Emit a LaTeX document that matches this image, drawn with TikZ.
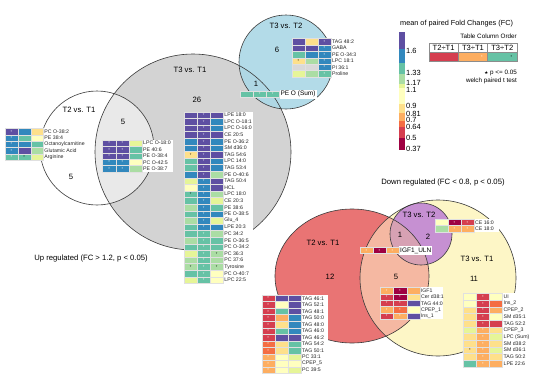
\documentclass[tikz,border=0pt]{standalone}
\usepackage{fontspec}
\setmainfont{Liberation Sans}
\newfontfamily\djv{DejaVu Sans}
\definecolor{spA}{HTML}{9E0142}
\definecolor{spB}{HTML}{D53E4F}
\definecolor{spC}{HTML}{F46D43}
\definecolor{spD}{HTML}{FDAE61}
\definecolor{spE}{HTML}{FEE08B}
\definecolor{spF}{HTML}{FFFFBF}
\definecolor{spG}{HTML}{E6F598}
\definecolor{spH}{HTML}{ABDDA4}
\definecolor{spI}{HTML}{66C2A5}
\definecolor{spJ}{HTML}{3288BD}
\definecolor{spK}{HTML}{5E4FA2}
\definecolor{naG}{HTML}{D9D9D9}
\definecolor{vGray}{HTML}{D3D3D3}
\definecolor{vBlue}{HTML}{ADD8E6}
\definecolor{vRed}{HTML}{E97474}
\definecolor{vYel}{HTML}{FDF6C6}
\definecolor{vSalm}{HTML}{F5B8A2}
\definecolor{vPur}{HTML}{C690D2}
\definecolor{vPink}{HTML}{D7A1B3}
\definecolor{vLine}{HTML}{3A3A3A}
\tikzset{
 cellbd/.style={draw=black!12, line width=0.2pt},
 hlab/.style={font=\fontsize{5.2}{6}\selectfont, inner sep=0.9pt, anchor=west, text=black!85},
 astbase/.style={font=\fontsize{4}{4}\selectfont, inner sep=0pt},
 astw/.style={astbase,text=white},
 astk/.style={astbase,text=black},
 astn/.style={astbase,text opacity=0},
 vline/.style={draw=vLine, line width=0.6pt},
 setlab/.style={font=\fontsize{7.7}{9}\selectfont, inner sep=0pt},
 biglab/.style={font=\fontsize{6.5}{8}\selectfont, inner sep=1pt, anchor=west, fill=white, minimum height=9pt},
 ticklab/.style={font=\fontsize{7.5}{9}\selectfont, inner sep=0pt, anchor=west},
 tabhead/.style={font=\fontsize{7.6}{9}\selectfont, inner sep=0pt},
 smalltxt/.style={font=\fontsize{6.3}{8}\selectfont, inner sep=0pt, anchor=east},
}
% #1 name, #2 x, #3 y, #4 cell width, #5 cell height, #6 label box width, #7 rows
\newcommand\hmap[7]{%
  \foreach \ca/\sa/\cb/\sb/\cc/\sc/\lab [count=\i from 0] in {#7}{%
    \pgfmathsetmacro\yy{#3+\i*#5}%
    \fill[white] (#2+3*#4,\yy) rectangle ++(#6,#5);
    \filldraw[cellbd,fill=\ca] (#2,\yy) rectangle ++(#4,#5);
    \filldraw[cellbd,fill=\cb] (#2+#4,\yy) rectangle ++(#4,#5);
    \filldraw[cellbd,fill=\cc] (#2+2*#4,\yy) rectangle ++(#4,#5);
    \node[\sa] (#1-\i-a) at (#2+0.5*#4,\yy+0.55*#5) {*};
    \node[\sb] (#1-\i-b) at (#2+1.5*#4,\yy+0.55*#5) {*};
    \node[\sc] (#1-\i-c) at (#2+2.5*#4,\yy+0.55*#5) {*};
    \node[hlab] (#1-\i) at (#2+3*#4,\yy+0.5*#5) {\lab};
  }%
}
\begin{document}
\begin{tikzpicture}[x=1pt,y=-1pt]
\useasboundingbox (0,0) rectangle (550,389);
% ---------- Up regulated Venn ----------
\fill[vGray] (193,152) circle (98pt);
\fill[white,opacity=0.5] (97,148) circle (57pt);
\fill[vBlue,opacity=0.92] (286,62) circle (47pt);
\draw[vline] (193,152) circle (98pt);
\draw[vline] (97,148) circle (57pt);
\draw[vline] (286,62) circle (47pt);
\node[setlab] (t2t1u) at (79,110) {T2 vs. T1};
\node[setlab] (n5a) at (123,122) {5};
\node[setlab] (n5b) at (71,177) {5};
\node[setlab] (t3t1u) at (190,70) {T3 vs. T1};
\node[setlab] (n26) at (197,100) {26};
\node[setlab] (t3t2u) at (286,26) {T3 vs. T2};
\node[setlab] (n6) at (277,50) {6};
\node[setlab] (n1u) at (256,84) {1};
\node[setlab] (upreg) at (91,259) {Up regulated (FC > 1.2, p < 0.05)};
% ---------- Down regulated Venn ----------
\fill[vYel] (438,278) circle (78pt);
\fill[vRed] (352,276) ellipse [x radius=77pt, y radius=67pt];
\begin{scope}
  \clip (438,278) circle (78pt);
  \fill[vSalm] (352,276) ellipse [x radius=77pt, y radius=67pt];
\end{scope}
\fill[vPur] (421,234) circle (31pt);
\begin{scope}
  \clip (421,234) circle (31pt);
  \fill[vPink] (352,276) ellipse [x radius=77pt, y radius=67pt];
\end{scope}
\draw[vline] (438,278) circle (78pt);
\draw[vline] (352,276) ellipse [x radius=77pt, y radius=67pt];
\draw[vline] (421,234) circle (31pt);
\node[setlab] (downreg) at (443,183) {Down regulated (FC < 0.8, p < 0.05)};
\node[setlab] (t2t1d) at (323,243) {T2 vs. T1};
\node[setlab] (n12) at (330,277) {12};
\node[setlab] (t3t2d) at (419,215) {T3 vs. T2};
\node[setlab] (n1d) at (400,235) {1};
\node[setlab] (n2d) at (428,237) {2};
\node[setlab] (t3t1d) at (477,259) {T3 vs. T1};
\node[setlab] (n11) at (474,279) {11};
\node[setlab] (n5d) at (396,277) {5};
% ---------- heatmaps (up) ----------
\hmap{L}{5}{128.3}{12.8}{6.35}{44}{%
 spK/astw/spJ/astn/spE/astn/PC O-38:2,
 spJ/astw/spI/astn/spF/astn/PE 38:4,
 spJ/astw/spJ/astn/spI/astn/Octanoylcarnitine,
 spJ/astw/spK/astn/spH/astn/Glutamic Acid,
 spI/astw/spI/astk/spG/astn/Arginine}
\hmap{M}{102.5}{140}{13.2}{6.35}{31}{%
 spK/astw/spK/astw/spG/astn/LPC O-18:0,
 spK/astw/spK/astw/spI/astn/PE 40:6,
 spK/astw/spK/astw/spI/astn/PE O-38:4,
 spJ/astw/spJ/astw/spF/astn/PC O-42:5,
 spJ/astw/spJ/astw/spH/astn/PE O-38:7}
\hmap{C}{184}{111.7}{13.1}{6.6}{30}{%
 spK/astn/spK/astw/spK/astn/LPE 18:0,
 spK/astn/spK/astw/spJ/astn/LPC O-18:1,
 spK/astn/spK/astw/spJ/astn/LPC O-16:0,
 spK/astn/spK/astw/spK/astn/CE 20:5,
 spJ/astn/spK/astw/spJ/astn/PE O-36:2,
 spJ/astn/spK/astw/spJ/astn/SM d36:0,
 spE/astk/spK/astw/spK/astn/TAG 54:6,
 spI/astn/spK/astw/spJ/astn/LPC 14:0,
 spI/astn/spK/astw/spJ/astn/TAG 53:4,
 spJ/astn/spK/astw/spH/astn/PE O-40:6,
 spG/astn/spJ/astw/spK/astn/TAG 50:4,
 spF/astn/spJ/astw/spK/astn/HCL,
 spI/astk/spJ/astw/spH/astn/LPC 18:0,
 spI/astn/spJ/astw/spG/astn/CE 20:3,
 spH/astn/spJ/astw/spI/astn/PE 38:6,
 spI/astn/spJ/astw/spJ/astn/PE O-38:5,
 spH/astn/spJ/astw/spG/astn/Glu\_4,
 spI/astn/spJ/astw/spJ/astn/LPE 20:3,
 spI/astn/spI/astw/spH/astn/PC 34:2,
 spH/astn/spI/astw/spI/astn/PE O-36:5,
 spI/astn/spI/astw/spI/astn/PC O-34:2,
 spG/astn/spI/astw/spH/astk/PC 36:3,
 spH/astn/spI/astw/spH/astn/PC 37:6,
 spH/astk/spI/astw/spH/astk/Tyrosine,
 spI/astn/spI/astw/spF/astn/PC O-40:7,
 spG/astn/spI/astw/spF/astn/LPC 22:5}
\hmap{R}{292}{38.5}{13}{6.4}{28}{%
 spK/astn/spE/astn/spK/astw/TAG 48:2,
 spK/astn/spK/astn/spJ/astw/GABA,
 spI/astn/spJ/astn/spJ/astw/PE O-34:3,
 spE/astk/spH/astn/spJ/astw/LPC 18:1,
 naG/astn/naG/astn/spJ/astw/PI 36:1,
 spG/astn/spH/astn/spI/astw/Proline}
\node[biglab] (S-lab) at (279.3,94.2) {PE O (Sum)};
\hmap{S}{240}{91}{13.1}{6.3}{0}{spI/astn/spI/astw/spI/astw/{}}
% ---------- heatmaps (down) ----------
\hmap{Q}{435}{219.3}{13}{6.2}{25}{%
 spF/astn/spA/astw/spB/astw/CE 16:0,
 spH/astn/spD/astw/spD/astw/CE 18:0}
\node[biglab] (U-lab) at (399,250.4) {IGF1\_ULN};
\hmap{U}{360}{247.3}{13}{6.2}{0}{spD/astw/spA/astw/spD/astw/{}}
\hmap{G}{380}{287.3}{13.3}{6.4}{23}{%
 spD/astw/spA/astw/spD/astn/IGF1,
 spB/astw/spA/astw/spE/astn/Cer d38:1,
 spB/astw/spB/astw/spK/astn/TAG 44:0,
 spD/astw/spC/astw/spF/astn/CPEP\_1,
 spB/astw/spD/astw/spK/astn/Ins\_1}
\hmap{B}{261.7}{295}{13.1}{6.53}{27}{%
 spB/astw/spK/astn/spK/astn/TAG 46:1,
 spB/astw/spF/astn/spK/astn/TAG 52:1,
 spB/astw/spI/astn/spK/astn/TAG 48:1,
 spB/astw/spD/astn/spJ/astn/TAG 50:0,
 spB/astw/spE/astn/spJ/astn/TAG 48:0,
 spB/astw/spI/astn/spJ/astn/TAG 46:0,
 spB/astw/spK/astn/spK/astn/TAG 46:2,
 spC/astw/spE/astn/spI/astn/TAG 54:2,
 spC/astw/spE/astn/spI/astn/TAG 50:1,
 spD/astw/spF/astn/spG/astn/PC 33:1,
 spD/astw/spF/astn/spF/astn/CPEP\_5,
 spD/astw/spF/astn/spG/astn/PC 39:5}
\hmap{T}{463.3}{293.3}{13.07}{6.67}{30}{%
 spF/astn/spB/astw/spF/astn/UI,
 spF/astn/spB/astw/spC/astn/Ins\_2,
 spE/astn/spB/astw/spD/astn/CPEP\_2,
 spE/astn/spB/astw/spF/astn/SM d35:1,
 spE/astn/spB/astw/spB/astn/TAG 52:2,
 spG/astn/spD/astw/spE/astn/CPEP\_3,
 spE/astn/spD/astw/spG/astn/LPC (Sum),
 spE/astn/spD/astw/spE/astn/SM d38:2,
 spE/astk/spD/astw/spG/astn/SM d36:1,
 spE/astn/spD/astw/spE/astn/TAG 50:2,
 spI/astn/spD/astw/spD/astn/LPE 22:6}
% ---------- legend ----------
\node[font=\fontsize{7.3}{9}\selectfont, inner sep=0pt, anchor=west] (legtitle) at (400,24) {mean of paired Fold Changes (FC)};
\fill[spK] (398.5,32) rectangle (404.5,49);
\fill[spJ] (398.5,49) rectangle (404.5,63);
\fill[spI] (398.5,63) rectangle (404.5,74);
\fill[spH] (398.5,74) rectangle (404.5,84);
\fill[spG] (398.5,84) rectangle (404.5,88);
\fill[spF] (398.5,88) rectangle (404.5,104);
\fill[spE] (398.5,104) rectangle (404.5,113);
\fill[spD] (398.5,113) rectangle (404.5,121);
\fill[spC] (398.5,121) rectangle (404.5,127);
\fill[spB] (398.5,127) rectangle (404.5,138);
\fill[spA] (398.5,138) rectangle (404.5,150);
\node[ticklab] (tk1) at (406,51) {1.6};
\node[ticklab] (tk2) at (406,73) {1.33};
\node[ticklab] (tk3) at (406,83) {1.17};
\node[ticklab] (tk4) at (406,90) {1.1};
\node[ticklab] (tk5) at (406,106) {0.9};
\node[ticklab] (tk6) at (406,114) {0.81};
\node[ticklab] (tk7) at (406,120) {0.7};
\node[ticklab] (tk8) at (406,127) {0.64};
\node[ticklab] (tk9) at (406,138) {0.5};
\node[ticklab] (tk10) at (406,149) {0.37};
\node[smalltxt] (tco) at (517,36) {Table Column Order};
\fill[spB] (429,52) rectangle (458.3,61);
\fill[spD] (458.3,52) rectangle (487.7,61);
\fill[spI] (487.7,52) rectangle (517,61);
\draw[black!45, line width=0.5pt] (429,43) rectangle (517,61) (429,52) -- (517,52)
  (458.3,43) -- (458.3,61) (487.7,43) -- (487.7,61);
\node[tabhead] (h1) at (443.6,47.8) {T2÷T1};
\node[tabhead] (h2) at (473,47.8) {T3÷T1};
\node[tabhead] (h3) at (502.3,47.8) {T3÷T2};
\node[astw] (lg-a) at (482,56.8) {*};
\node[astk] (lg-b) at (511.5,56.8) {*};
\node[smalltxt] (pval) at (517,73) {{\djv\fontsize{4.5}{6}\selectfont ★} p <= 0.05};
\node[smalltxt] (welch) at (517,81) {welch paired t test};
\end{tikzpicture}
\end{document}
